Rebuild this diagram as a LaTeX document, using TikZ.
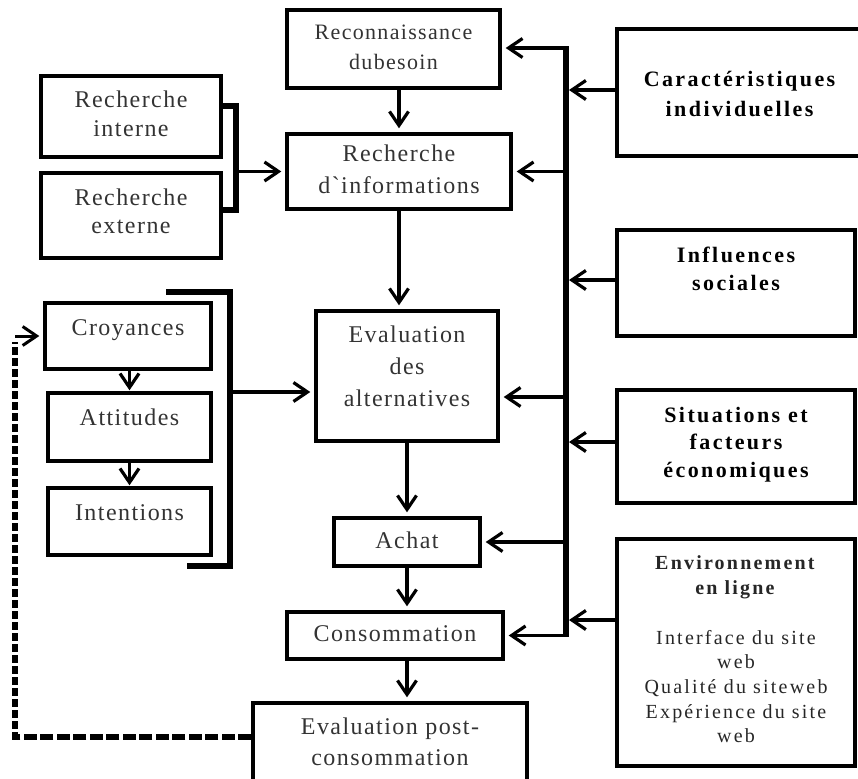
\documentclass[tikz,border=0pt]{standalone}
\usepackage{fontspec}
\setmainfont{Liberation Serif}
\newfontfamily\rfont{Liberation Serif}[LetterSpace=6]
\newfontfamily\wfont{Liberation Serif}[LetterSpace=11]
\usetikzlibrary{arrows.meta}
\newsavebox\lbox
\newcommand\lines[2][0]{\sbox\lbox{\begin{tabular}{@{}c@{}}#2\end{tabular}}\raisebox{\dimexpr#1pt-(\ht\lbox-\dp\lbox)/2\relax}[0pt][0pt]{\usebox\lbox}}
\begin{document}
\begin{tikzpicture}[x=1pt,y=-1pt,
  bx/.style={draw, line width=3.4pt, inner sep=0pt, text=black!80, font=\rfont\fontsize{24}{30}\selectfont},
  bbx/.style={draw, line width=3.4pt, inner sep=0pt, text=black, font=\wfont\bfseries\fontsize{22}{29}\selectfont},
  tip/.style={-{Straight Barb[length=14pt,width=19pt]}},
  arr/.style={line width=3.2pt, tip, shorten >=4pt},
  arrB/.style={line width=3.2pt, tip},
  thk/.style={line width=5.5pt},
  dshH/.style={line width=5.5pt, dash pattern=on 13pt off 3.5pt},
  dshV/.style={line width=5.5pt, dash pattern=on 8pt off 3pt}]
\useasboundingbox (0,0) rectangle (858,778);
% process column
\node[bx, minimum width=213pt, minimum height=78pt, font=\rfont\fontsize{22}{30}\selectfont] (rec) at (393.5,49) {\lines{Reconnaissance\\dubesoin}};
\node[bx, minimum width=224pt, minimum height=75pt, font=\rfont\fontsize{24}{32}\selectfont] (info) at (399,171.5) {\lines{Recherche\\d\symbol{96}informations}};
\node[bx, minimum width=182pt, minimum height=130pt, font=\rfont\fontsize{24}{32}\selectfont] (eval) at (407,376) {\lines[8]{Evaluation\\des\\alternatives}};
\node[bx, minimum width=146pt, minimum height=48pt] (achat) at (407,542) {\lines{Achat}};
\node[bx, minimum width=216pt, minimum height=47pt] (conso) at (395,635.5) {\lines{Consommation}};
\node[bx, minimum width=274pt, minimum height=82pt, font=\rfont\fontsize{24}{31}\selectfont] (post) at (390,744) {\lines{Evaluation post-\\consommation}};
% search boxes
\node[bx, minimum width=180pt, minimum height=81pt, font=\rfont\fontsize{24}{29}\selectfont] (ri) at (131,116.5) {\lines{Recherche\\interne}};
\node[bx, minimum width=180pt, minimum height=85pt, font=\rfont\fontsize{24}{28}\selectfont] (re) at (131,215.5) {\lines[2]{Recherche\\externe}};
% beliefs
\node[bx, minimum width=166pt, minimum height=66pt] (croy) at (128,336) {\lines[7]{Croyances}};
\node[bx, minimum width=163pt, minimum height=68pt] (att) at (129.5,427) {\lines[7.5]{Attitudes}};
\node[bx, minimum width=163pt, minimum height=67pt] (int) at (129.5,521.5) {\lines[7]{Intentions}};
% factor boxes
\node[bbx, minimum width=245pt, minimum height=127pt, font=\wfont\bfseries\fontsize{22}{30}\selectfont] (car) at (739.5,92.5) {\lines[-3.5]{Caractéristiques\\individuelles}};
\node[bbx, minimum width=238pt, minimum height=106pt, font=\wfont\bfseries\fontsize{22}{28}\selectfont] (inf) at (736,283) {\lines[12.5]{Influences\\sociales}};
\node[bbx, minimum width=238pt, minimum height=113pt, font=\wfont\bfseries\fontsize{22}{27.5}\selectfont] (sit) at (736,446.5) {\lines[2.5]{Situations et\\facteurs\\économiques}};
\node[bx, minimum width=238pt, minimum height=227pt, text=black!85, font=\wfont\fontsize{20}{24.7}\selectfont] (env) at (736,652.5) {\lines[1]{\textbf{Environnement}\\\textbf{en ligne}\\ \\Interface du site\\web\\Qualité du siteweb\\Expérience du site\\web}};
% vertical flow
\draw[arr] (info.north |- rec.south) -- (info.north);
\draw[arr] (info.south) -- (info.south |- eval.north);
\draw[arr] (eval.south) -- (achat.north);
\draw[arr] (achat.south) -- (achat.south |- conso.north);
\draw[arr] (achat.south |- conso.south) -- (achat.south |- post.north);
\draw[arr, shorten >=1pt] (att.north |- croy.south) -- (att.north);
\draw[arr, shorten >=1pt] (att.south) -- (int.north);
% search bracket
\draw[thk] (221,106) -- (236,106) -- (236,210) -- (221,210);
\coordinate (bR) at (236,171.5);
\draw[arr] (bR) -- (info.west);
% belief bracket
\draw[thk] (166,292) -- (230,292) -- (230,566) -- (187,566);
\coordinate (bL) at (230,392);
\draw[arr] (bL) -- (bL -| eval.west);
% bus
\coordinate (busT) at (566,48);
\coordinate (busB) at (566,635.5);
\coordinate (bE) at (566,397);
\coordinate (busR) at (569,0);
\draw[line width=6pt] ([yshift=1.6pt]busT) -- ([yshift=-1.6pt]busB);
\draw[arr] (busT) -- (busT -| rec.east);
\draw[arr] (busT |- info.east) -- (info.east);
\draw[arr] (bE) -- (bE -| eval.east);
\draw[arr] (busT |- achat.east) -- (achat.east);
\draw[arr] (busB) -- (busB -| conso.east);
% factors into bus
\draw[arrB] ([yshift=2.5pt]car.west) -- ([yshift=2.5pt]car.west -| busR);
\draw[arrB] ([yshift=3pt]inf.west) -- ([yshift=3pt]inf.west -| busR);
\draw[arrB] ([yshift=4.5pt]sit.west) -- ([yshift=4.5pt]sit.west -| busR);
\draw[arrB] ([yshift=32.5pt]env.west) -- ([yshift=32.5pt]env.west -| busR);
% feedback
\coordinate (dC) at (15,737);
\coordinate (dT) at (15,336);
\draw[dshH] ([yshift=7pt]post.west) -- (dC);
\draw[dshV] ([yshift=-2.7pt]dC) -- (15,342);
\draw[arr, line width=3pt] (dT) -- (croy.west);
\end{tikzpicture}
\end{document}
